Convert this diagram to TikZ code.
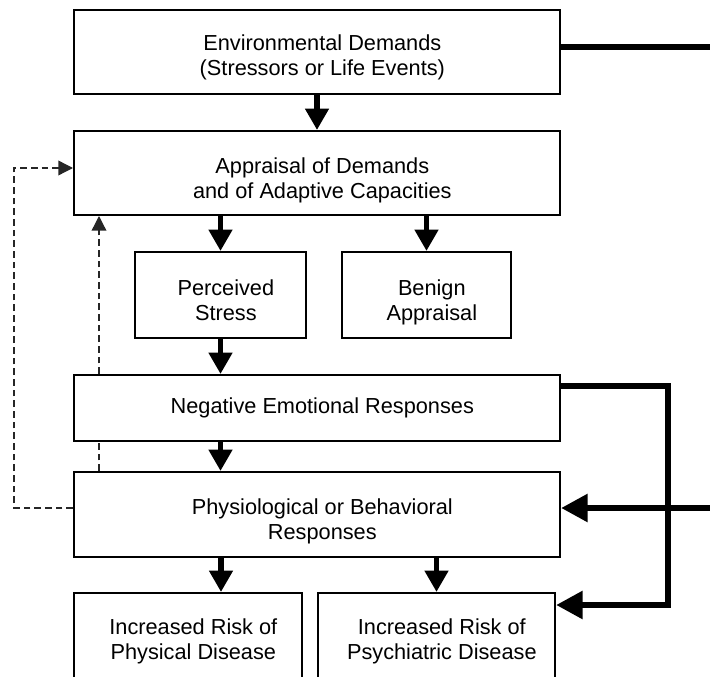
\documentclass[tikz,border=0pt]{standalone}
\usepackage{fontspec}
\setmainfont{Liberation Sans}
\usetikzlibrary{arrows.meta}

\tikzset{every picture/.style={line width=0.75pt}}
\tikzset{
  box/.style={draw, line width=1.5pt, fill=white, inner sep=0pt},
  txt/.style={align=center, inner sep=0pt, xshift=4pt, font=\fontsize{16.3}{18.8}\selectfont},
  arr/.style={line width=4pt, -{Triangle[length=16pt,width=17pt]}},
  bigline/.style={line width=5pt},
  bigarr/.style={line width=5pt, -{Triangle[length=20pt,width=20pt]}},
  dashline/.style={line width=1pt, dash pattern=on 5pt off 3pt, black!85}
}

\begin{document}
\begin{tikzpicture}[x=0.75pt,y=0.75pt,yscale=-1,xscale=1]
\clip (0,0) rectangle (710,677);

% Boxes
\node [box, minimum width=364.5pt, minimum height=63pt,
  label={[txt,yshift=-3.75pt]center:Environmental Demands\\(Stressors or Life Events)}] (env) at (317,52) {};
\node [box, minimum width=364.5pt, minimum height=63pt,
  label={[txt,yshift=-5.25pt]center:Appraisal of Demands\\and of Adaptive Capacities}] (appraisal) at (317,173) {};
\node [box, minimum width=128.25pt, minimum height=64.5pt,
  label={[txt,yshift=-3.75pt]center:Perceived\\Stress}] (perceived) at (220.5,295) {};
\node [box, minimum width=126.75pt, minimum height=64.5pt,
  label={[txt,yshift=-5.25pt]center:Benign\\Appraisal}] (benign) at (426.5,295) {};
\node [box, minimum width=364.5pt, minimum height=49.5pt,
  label={[txt]center:Negative Emotional Responses}] (negemo) at (317,408) {};
\node [box, minimum width=364.5pt, minimum height=63.75pt,
  label={[txt,yshift=-5.25pt]center:Physiological or Behavioral\\Responses}] (physio) at (317,514.5) {};
\node [box, minimum width=171pt, minimum height=72.75pt,
  label={[txt]center:Increased Risk of\\Physical Disease}] (physdis) at (188,641.5) {};
\node [box, minimum width=177.75pt, minimum height=72.75pt,
  label={[txt]center:Increased Risk of\\Psychiatric Disease}] (psychdis) at (436.5,641.5) {};

% Helper coordinates
\coordinate (cx) at (221,0);
\coordinate (envout) at (710,47);
\coordinate (rt) at (668,386);
\coordinate (rb) at (668,605);
\coordinate (pin) at (710,508);
\coordinate (lb) at (14,508);
\coordinate (lt) at (14,168);
\coordinate (vd) at (99,0);

% Main arrows
\draw [arr] (env.south) -- (appraisal.north);
\draw [arr] (appraisal.south -| perceived) -- (perceived.north);
\draw [arr] (appraisal.south -| benign) -- (benign.north);
\draw [arr] (perceived.south) -- (negemo.north -| perceived);
\draw [arr] (negemo.south -| perceived) -- (physio.north -| perceived);
\draw [arr] (physio.south -| cx) -- (physdis.north -| cx);
\draw [arr] (physio.south -| psychdis) -- (psychdis.north);

% Right side thick lines
\draw [bigline] (env.east |- envout) -- (envout);
\draw [bigarr] (negemo.east |- rt) -- (rt) -- (rb) -- (psychdis.east |- rb);
\draw [bigarr] (pin) -- (physio.east |- pin);

% Dashed feedback
\draw [dashline, -{Triangle[length=11pt,width=11pt]}] (physio.west |- lb) -- (lb) -- (lt) -- (appraisal.west |- lt);
\draw [dashline] (physio.north -| vd) -- (negemo.south -| vd);
\draw [dashline, -{Triangle[length=11pt,width=11pt]}] (negemo.north -| vd) -- (appraisal.south -| vd);

\end{tikzpicture}
\end{document}
